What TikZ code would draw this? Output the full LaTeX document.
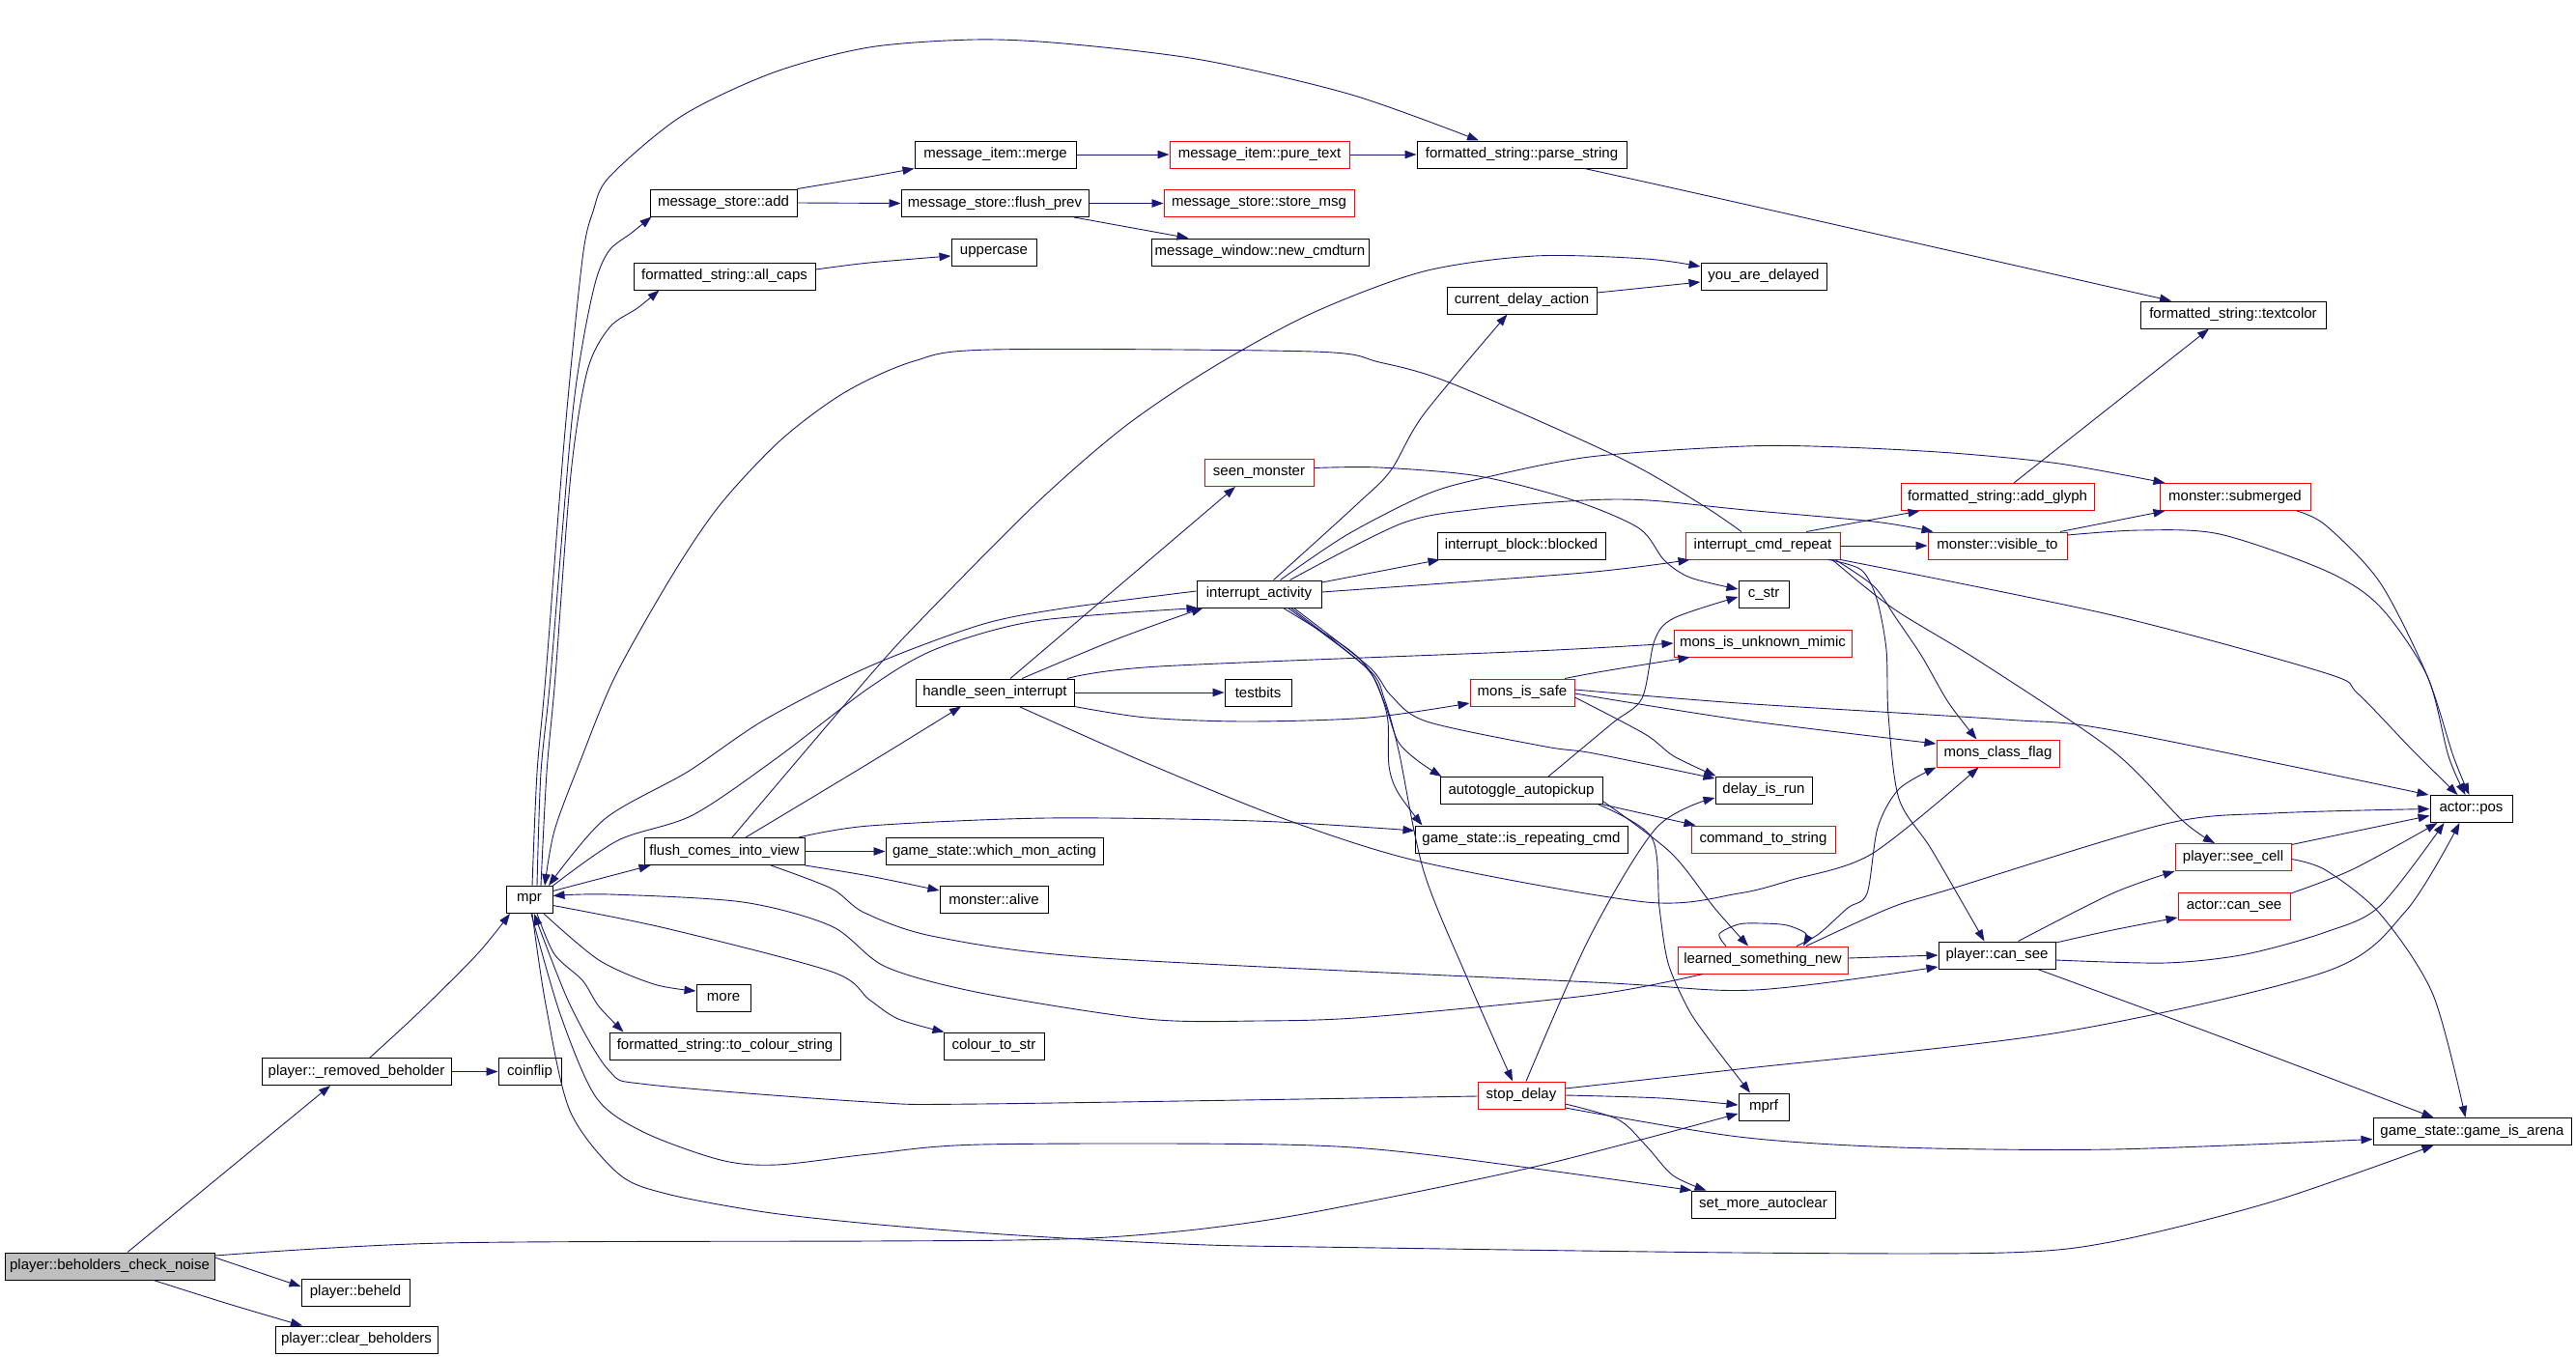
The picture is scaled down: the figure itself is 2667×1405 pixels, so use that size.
\documentclass[tikz,border=0pt]{standalone}
\usepackage{fontspec}
\setmainfont{Liberation Sans}
\usetikzlibrary{arrows.meta}
\definecolor{edgec}{HTML}{191970}
\definecolor{grayfill}{HTML}{BFBFBF}
\tikzset{
  nb/.style={draw=black, line width=1pt, minimum height=28pt, inner sep=0pt, fill=white, font=\fontsize{15}{16}\selectfont},
  rn/.style={nb, draw=red},
  e/.style={draw=edgec, line width=0.9pt, -{Triangle[length=12pt,width=8.5pt]}},
  sm/.style={smooth, tension=0.5},
}
\begin{document}
\begin{tikzpicture}[x=1pt,y=-1pt]
\useasboundingbox (0,0) rectangle (2667,1405);
\node[nb, minimum width=217pt, fill=grayfill] (bcn) at (113.5,1311) {player::beholders\_check\_noise};
\node[nb, minimum width=112pt] (beheld) at (368,1338) {player::beheld};
\node[nb, minimum width=168pt] (clear) at (369,1387) {player::clear\_beholders};
\node[nb, minimum width=196pt] (rb) at (369,1109.5) {player::\_removed\_beholder};
\node[nb, minimum width=65pt] (coinflip) at (548.5,1109.5) {coinflip};
\node[nb, minimum width=48pt] (mpr) at (548,931.5) {mpr};
\node[nb, minimum width=152pt] (add) at (749,210) {message\_store::add};
\node[nb, minimum width=188pt] (allcaps) at (750,286) {formatted\_string::all\_caps};
\node[nb, minimum width=167pt] (merge) at (1030.5,160) {message\_item::merge};
\node[rn, minimum width=186pt] (puretext) at (1304,160) {message\_item::pure\_text};
\node[nb, minimum width=217pt] (parse) at (1575.5,160) {formatted\_string::parse\_string};
\node[nb, minimum width=194pt] (flushprev) at (1030,210.5) {message\_store::flush\_prev};
\node[rn, minimum width=197pt] (storemsg) at (1303.5,210.5) {message\_store::store\_msg};
\node[nb, minimum width=88pt] (uppercase) at (1029,261) {uppercase};
\node[nb, minimum width=225pt] (newcmd) at (1304.5,261) {message\_window::new\_cmdturn};
\node[nb, minimum width=130pt] (youdelayed) at (1826,286) {you\_are\_delayed};
\node[nb, minimum width=155pt] (cda) at (1575.5,311) {current\_delay\_action};
\node[nb, minimum width=192pt] (textcolor) at (2312,326) {formatted\_string::textcolor};
\node[rn, minimum width=113pt] (seen) at (1303.5,489.5) {seen\_monster};
\node[nb, minimum width=174pt] (blocked) at (1575,565) {interrupt\_block::blocked};
\node[nb, minimum width=129pt] (ia) at (1303.5,615) {interrupt\_activity};
\node[rn, minimum width=160pt] (icr) at (1825,565) {interrupt\_cmd\_repeat};
\node[rn, minimum width=200pt] (addglyph) at (2068,514.5) {formatted\_string::add\_glyph};
\node[rn, minimum width=156pt] (submerged) at (2314,514.5) {monster::submerged};
\node[rn, minimum width=144pt] (visible) at (2068,565) {monster::visible\_to};
\node[nb, minimum width=52pt] (cstr) at (1826,615) {c\_str};
\node[rn, minimum width=184pt] (mimic) at (1825,666) {mons\_is\_unknown\_mimic};
\node[nb, minimum width=164pt] (hsi) at (1030,717) {handle\_seen\_interrupt};
\node[nb, minimum width=69pt] (testbits) at (1302.5,717) {testbits};
\node[rn, minimum width=108pt] (safe) at (1576,717) {mons\_is\_safe};
\node[rn, minimum width=127pt] (classflag) at (2068.5,780) {mons\_class\_flag};
\node[nb, minimum width=168pt] (autotoggle) at (1575,818.5) {autotoggle\_autopickup};
\node[nb, minimum width=100pt] (delayrun) at (1826,818) {delay\_is\_run};
\node[nb, minimum width=220pt] (repeating) at (1575,869) {game\_state::is\_repeating\_cmd};
\node[rn, minimum width=149pt] (cmdstr) at (1825.5,869) {command\_to\_string};
\node[nb, minimum width=166pt] (flush) at (750,881.5) {flush\_comes\_into\_view};
\node[nb, minimum width=225pt] (whichmon) at (1029.5,881.5) {game\_state::which\_mon\_acting};
\node[nb, minimum width=112pt] (alive) at (1029,931) {monster::alive};
\node[nb, minimum width=85pt] (pos) at (2558.5,837.5) {actor::pos};
\node[rn, minimum width=120pt] (seecell) at (2312,887.5) {player::see\_cell};
\node[rn, minimum width=116pt] (cansee) at (2313,938) {actor::can\_see};
\node[rn, minimum width=176pt] (learned) at (1825,994) {learned\_something\_new};
\node[nb, minimum width=121pt] (pcansee) at (2067.5,989) {player::can\_see};
\node[nb, minimum width=56pt] (more) at (749,1033) {more};
\node[nb, minimum width=239pt] (tocolour) at (750.5,1083) {formatted\_string::to\_colour\_string};
\node[nb, minimum width=104pt] (colourstr) at (1029,1083) {colour\_to\_str};
\node[rn, minimum width=90pt] (stopdelay) at (1575,1134) {stop\_delay};
\node[nb, minimum width=52pt] (mprf) at (1826,1146) {mprf};
\node[nb, minimum width=205pt] (arena) at (2559.5,1171.5) {game\_state::game\_is\_arena};
\node[nb, minimum width=149pt] (setmore) at (1825.5,1247) {set\_more\_autoclear};

\draw[e] ([xshift=18.5pt]bcn.north) -- ([xshift=-27pt]rb.south);
\draw[e] ([yshift=9pt]bcn.east) -- ([yshift=6pt]beheld.west);
\draw[e] plot[sm] coordinates {([xshift=45.5pt]bcn.south) (230,1348) (287,1365) ([xshift=-56pt]clear.north)};
\draw[e] plot[sm] coordinates {([yshift=11pt]bcn.east) (459,1287) (900,1285) (1050,1284) (1147,1281) (1247,1272) (1360,1255) (1589,1208) ([yshift=-7pt]mprf.west)};
\draw[e] plot[sm] coordinates {([xshift=3pt]mpr.south) (565,1040) (590,1150) (640,1215) (690,1236) (792,1255) (900,1267) (1010,1276) (1120,1283) (1250,1289) (1360,1291) (1800,1297) (2076,1297) (2190,1285) (2353,1244) ([xshift=-40pt]arena.south)};
\draw[e] plot[sm] coordinates {([xshift=14pt]rb.north) (436,1046) (494,988) ([xshift=-20pt]mpr.south)};
\draw[e] (rb.east) -- (coinflip.west);
\draw[e] plot[sm] coordinates {([xshift=8pt]mpr.north) (560,800) (570,700) (591,446) (603,357) (617,290) (631,259) (654,241) ([xshift=2pt]add.south west)};
\draw[e] plot[sm] coordinates {([xshift=12pt]mpr.north) (566,800) (575,700) (591,491) (608,384) (631,339) (660,319) ([xshift=27pt]allcaps.south west)};
\draw[e] plot[sm] coordinates {([xshift=3pt]mpr.north) (556,800) (565,700) (585,446) (603,268) (614,219) (631,183) (706,120) (801,75) (900,49) (1009,41) (1101,45) (1244,62) (1399,98) ([xshift=-44.5pt]parse.north)};
\draw[e] plot[sm] coordinates {([xshift=-22pt]icr.north) (1761,522) (1675,473) (1503,397) (1428,375) (1359,364) (1026,362) (946,374) (875,406) (809,455) (746,522) (697,594) (637,700) (600,790) (574,860) ([xshift=16pt]mpr.north)};
\draw[e] plot[sm] coordinates {([yshift=3pt]ia.west) (1100,630) (1015,647) (900,690) (792,745) (712,799) (626,848) ([xshift=20pt]mpr.north)};
\draw[e] plot[sm] coordinates {(mpr.north east) (640,870) (717,844) (804,785) (900,712) (969,672) (1072,643) ([xshift=2pt]ia.south west)};
\draw[e] plot[sm] coordinates {([xshift=28pt]hsi.north) (1158,661) ([xshift=-58pt]ia.south)};
\draw[e] ([xshift=16pt]hsi.north) -- ([xshift=-24.5pt]seen.south);
\draw[e] plot[sm] coordinates {([xshift=22pt]flush.north) (900,790) ([xshift=-35pt]hsi.south)};
\draw[e] plot[sm] coordinates {([xshift=8pt]flush.north) (900,700) (957,638) (1072,522) (1164,442) (1256,380) (1359,324) (1474,281) (1589,265) (1704,268) ([yshift=10pt]youdelayed.west)};
\draw[e] ([yshift=9pt]mpr.east) -- ([xshift=7pt]flush.south west);
\draw[e] plot[sm] coordinates {([xshift=-62pt]learned.south) (1650,1030) (1417,1053) (1302,1057) (1187,1055) (1015,1028) (917,1001) (861,959) (769,934) (631,926) ([yshift=4pt]mpr.east)};
\draw[e] plot[sm] coordinates {([yshift=-6pt]mpr.east) (689,961) (861,1006) (900,1035) (930,1055) ([xshift=1pt]colourstr.north west)};
\draw[e] plot[sm] coordinates {([xshift=15pt]mpr.south) (620,994) (677,1019) ([yshift=7pt]more.west)};
\draw[e] plot[sm] coordinates {([xshift=8pt]mpr.south) (574,988) (603,1015) (620,1042) ([xshift=-105pt]tocolour.north)};
\draw[e] plot[sm] coordinates {([yshift=-1pt]stopdelay.west) (1015,1143) (900,1141) (672,1123) (631,1109) (590,1040) ([xshift=5pt]mpr.south)};
\draw[e] plot[sm] coordinates {([xshift=2pt]mpr.south) (580,1050) (617,1136) (666,1172) (746,1201) (804,1206) (900,1195) (1015,1185) (1325,1185) (1474,1195) ([xshift=1pt]setmore.north west)};
\draw[e] plot[sm] coordinates {([xshift=77pt]flush.north) (900,855) (1084,847) (1300,850) ([yshift=9pt]repeating.west)};
\draw[e] (flush.east) -- (whichmon.west);
\draw[e] plot[sm] coordinates {(flush.south east) (900,907) ([yshift=9pt]alive.west)};
\draw[e] plot[sm] coordinates {([xshift=48pt]flush.south) (861,920) (895,945) (969,970) (1141,992) (1650,1017) (1817,1025) ([yshift=-12pt]pcansee.west)};
\draw[e] (hsi.east) -- (testbits.west);
\draw[e] plot[sm] coordinates {(hsi.south east) (1187,743) (1290,747) (1417,743) ([yshift=-11pt]safe.west)};
\draw[e] plot[sm] coordinates {([xshift=75pt]hsi.north) (1200,690) (1589,674) (mimic.west)};
\draw[e] plot[sm] coordinates {([xshift=25pt]hsi.south) (1187,790) (1330,848) (1474,893) (1704,934) (1800,925) (1855,911) (1938,884) ([xshift=-20pt]classflag.south)};
\draw[e] plot[sm] coordinates {([xshift=15pt]ia.north) (1405,522) (1440,487) (1474,429) ([xshift=-15pt]cda.south)};
\draw[e] ([yshift=12pt]ia.east) -- ([xshift=3pt]blocked.south west);
\draw[e] plot[sm] coordinates {([yshift=2pt]ia.east) (1640,593) ([xshift=5pt]icr.south west)};
\draw[e] plot[sm] coordinates {([xshift=22pt]ia.north) (1394,554) (1474,513) (1531,496) (1646,473) (1807,462) (1907,463) (2021,469) (2132,480) ([xshift=6pt]submerged.north west)};
\draw[e] plot[sm] coordinates {([xshift=32pt]ia.north) (1451,542) (1531,527) (1640,518) (1707,518) (1807,528) (1940,540) ([xshift=6pt]visible.north west)};
\draw[e] plot[sm] coordinates {([xshift=36pt]ia.south) (1417,690) (1440,720) (1477,747) (1600,773) (1650,780) ([yshift=12pt]delayrun.west)};
\draw[e] plot[sm] coordinates {([xshift=30pt]ia.south) (1413,690) (1433,727) (1447,767) (1467,787) ([xshift=2pt]autotoggle.north west)};
\draw[e] plot[sm] coordinates {([xshift=25pt]ia.south) (1393,670) (1417,693) (1430,720) (1437,747) (1438,793) (1447,820) ([xshift=8pt]repeating.north west)};
\draw[e] plot[sm] coordinates {([xshift=33pt]ia.south) (1417,693) (1433,723) (1448,777) (1474,902) (1520,1015) ([xshift=-9pt]stopdelay.north)};
\draw[e] plot[sm] coordinates {([yshift=5pt]seen.east) (1428,484) (1531,493) (1629,518) (1697,547) (1723,580) (1750,598) ([yshift=5pt]cstr.west)};
\draw[e] plot[sm] coordinates {([xshift=28pt]autotoggle.north) (1669,749) (1700,723) (1713,663) (1733,640) ([yshift=-3pt]cstr.west)};
\draw[e] (autotoggle.south east) -- ([xshift=5pt]cmdstr.north west);
\draw[e] plot[sm] coordinates {([yshift=-11pt]autotoggle.east) (1730,883) (1775,940) ([xshift=-15pt]learned.north)};
\draw[e] plot[sm] coordinates {([xshift=80pt]autotoggle.south) (1710,867) (1718,940) (1727,997) (1747,1043) (1767,1073) ([xshift=-14pt]mprf.north)};
\draw[e] plot[sm] coordinates {([xshift=44pt]safe.north) (1660,695) ([xshift=17pt]mimic.south west)};
\draw[e] plot[sm] coordinates {([yshift=3pt]safe.east) (1800,728) (2076,745) (2187,756) ([xshift=-1pt]pos.north west)};
\draw[e] plot[sm] coordinates {([yshift=-1pt]safe.east) (1800,745) ([yshift=10pt]classflag.west)};
\draw[e] plot[sm] coordinates {([yshift=-5pt]safe.east) (1703,760) (1733,783) ([xshift=1pt]delayrun.north west)};
\draw[e] ([xshift=45pt]icr.north) -- ([xshift=20pt]addglyph.south west);
\draw[e] (icr.east) -- (visible.west);
\draw[e] plot[sm] coordinates {([xshift=68pt]icr.south) (1927,590) (1943,620) (1953,673) (1955,740) (1966,827) (2000,880) ([xshift=-13pt]pcansee.north)};
\draw[e] plot[sm] coordinates {([xshift=75pt]icr.south) (1940,607) (1963,640) (1990,680) (2017,727) ([xshift=-22pt]classflag.north)};
\draw[e] plot[sm] coordinates {([xshift=72pt]icr.south) (1960,630) (2050,685) (2187,777) (2260,850) ([xshift=-19pt]seecell.north)};
\draw[e] plot[sm] coordinates {(icr.south east) (2187,637) (2408,697) (2441,718) (2497,776) ([xshift=-14pt]pos.north)};
\draw[e] ([xshift=65pt]visible.north) -- ([xshift=6pt]submerged.south west);
\draw[e] plot[sm] coordinates {([yshift=11pt]visible.east) (2215,549) (2298,553) (2408,591) (2464,628) (2513,700) (2535,783) ([xshift=-6pt]pos.north)};
\draw[e] plot[sm] coordinates {([xshift=64pt]submerged.south) (2408,544) (2464,603) (2513,700) (2540,783) ([xshift=-2pt]pos.north)};
\draw[e] ([xshift=17pt]addglyph.north) -- ([xshift=-25pt]textcolor.south);
\draw[e] plot[sm] coordinates {([xshift=65pt]parse.south) (1800,210) ([xshift=-64pt]textcolor.north)};
\draw[e] ([yshift=8pt]cda.east) -- ([yshift=-6pt]youdelayed.west);
\draw[e] plot[sm] coordinates {(add.north east) (900,183) (merge.south west)};
\draw[e] (add.east) -- (flushprev.west);
\draw[e] plot[sm] coordinates {([yshift=7pt]allcaps.east) (900,272) ([yshift=-4pt]uppercase.west)};
\draw[e] (merge.east) -- (puretext.west);
\draw[e] (puretext.east) -- (parse.west);
\draw[e] (flushprev.east) -- (storemsg.west);
\draw[e] ([xshift=82pt]flushprev.south) -- ([xshift=-74pt]newcmd.north);
\draw[e] plot[sm] coordinates {([xshift=-38pt]learned.north) (1780,967) (1800,957) (1823,956) (1850,958) (1870,967) ([xshift=42pt]learned.north)};
\draw[e] plot[sm] coordinates {([xshift=35pt]learned.north) (1883,967) (1913,940) (1933,925) (1944,857) (1966,817) (classflag.south west)};
\draw[e] plot[sm] coordinates {([xshift=45pt]learned.north) (1957,940) (2021,920) (2242,853) (2353,842) (pos.west)};
\draw[e] ([yshift=2pt]learned.east) -- (pcansee.west);
\draw[e] plot[sm] coordinates {([xshift=22pt]pcansee.north) (2187,925) (seecell.south west)};
\draw[e] plot[sm] coordinates {([yshift=13pt]pcansee.east) (2187,963) ([yshift=-12pt]cansee.west)};
\draw[e] plot[sm] coordinates {([yshift=-5pt]pcansee.east) (2242,997) (2325,988) (2408,965) (2464,938) ([xshift=-28pt]pos.south)};
\draw[e] plot[sm] coordinates {([xshift=42pt]pcansee.south) (2298,1073) ([xshift=-40pt]arena.north)};
\draw[e] ([yshift=13pt]seecell.east) -- ([yshift=-7pt]pos.west);
\draw[e] plot[sm] coordinates {([yshift=-2pt]seecell.east) (2408,901) (2464,946) (2519,1030) ([xshift=-7pt]arena.north)};
\draw[e] plot[sm] coordinates {([yshift=13pt]cansee.east) (2436,900) ([xshift=-35pt]pos.south)};
\draw[e] plot[sm] coordinates {([xshift=5pt]stopdelay.north) (1646,970) (1715,857) ([yshift=-8pt]delayrun.west)};
\draw[e] plot[sm] coordinates {([yshift=7pt]stopdelay.east) (1800,1107) (2132,1069) (2408,1006) (2491,943) ([xshift=-12pt]pos.south)};
\draw[e] plot[sm] coordinates {(stopdelay.east) (1720,1137) ([yshift=2pt]mprf.west)};
\draw[e] plot[sm] coordinates {([yshift=-13pt]stopdelay.east) (1800,1177) (1966,1188) (2187,1190) ([yshift=-8pt]arena.west)};
\draw[e] plot[sm] coordinates {([yshift=-9pt]stopdelay.east) (1675,1159) (1704,1186) (1732,1217) ([xshift=16pt]setmore.north west)};
\end{tikzpicture}
\end{document}
